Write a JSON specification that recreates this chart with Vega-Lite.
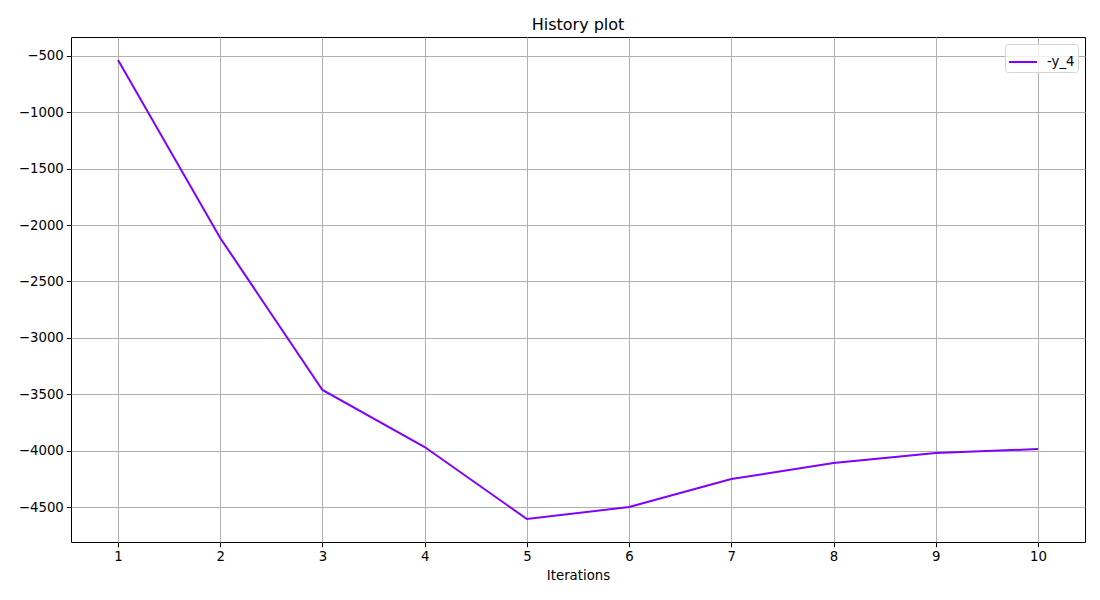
{
  "$schema": "https://vega.github.io/schema/vega-lite/v6.json",
  "width": 1014,
  "height": 505,
  "autosize": {"type": "none"},
  "padding": {"left": 71, "top": 37, "right": 15, "bottom": 58},
  "background": "white",
  "title": {
    "text": "History plot",
    "fontSize": 16,
    "fontWeight": "normal",
    "font": "DejaVu Sans",
    "color": "black",
    "anchor": "middle",
    "offset": 4
  },
  "data": {
    "values": [
      {"iteration": 1, "value": -535, "series": "-y_4"},
      {"iteration": 2, "value": -2114, "series": "-y_4"},
      {"iteration": 3, "value": -3462, "series": "-y_4"},
      {"iteration": 4, "value": -3968, "series": "-y_4"},
      {"iteration": 5, "value": -4606, "series": "-y_4"},
      {"iteration": 6, "value": -4500, "series": "-y_4"},
      {"iteration": 7, "value": -4252, "series": "-y_4"},
      {"iteration": 8, "value": -4110, "series": "-y_4"},
      {"iteration": 9, "value": -4021, "series": "-y_4"},
      {"iteration": 10, "value": -3986, "series": "-y_4"}
    ]
  },
  "mark": {"type": "line", "strokeWidth": 2, "clip": true},
  "encoding": {
    "x": {
      "field": "iteration",
      "type": "quantitative",
      "title": "Iterations",
      "scale": {"domain": [0.54, 10.46], "nice": false, "zero": false},
      "axis": {"values": [1, 2, 3, 4, 5, 6, 7, 8, 9, 10], "format": "d"}
    },
    "y": {
      "field": "value",
      "type": "quantitative",
      "title": null,
      "scale": {"domain": [-4810, -332], "nice": false, "zero": false},
      "axis": {
        "values": [-500, -1000, -1500, -2000, -2500, -3000, -3500, -4000, -4500],
        "labelExpr": "'\u2212' + format(abs(datum.value), 'd')"
      }
    },
    "color": {
      "field": "series",
      "type": "nominal",
      "title": null,
      "scale": {"range": ["#8000ff"]},
      "legend": {
        "orient": "top-right",
        "offset": 7,
        "symbolType": "M-1,0L1,0",
        "symbolSize": 784,
        "symbolStrokeWidth": 2,
        "labelFontSize": 13.3,
        "labelFont": "DejaVu Sans",
        "labelColor": "black",
        "labelOffset": 9,
        "padding": 3,
        "strokeColor": "#d5d5d5",
        "fillColor": "rgba(255,255,255,0.8)",
        "cornerRadius": 3
      }
    }
  },
  "config": {
    "view": {"stroke": "black", "strokeWidth": 1},
    "axis": {
      "domain": false,
      "grid": true,
      "gridColor": "#b0b0b0",
      "gridWidth": 1,
      "tickColor": "black",
      "tickSize": 4.7,
      "tickWidth": 1,
      "labelFont": "DejaVu Sans",
      "labelFontSize": 13.3,
      "labelColor": "black",
      "labelPadding": 3,
      "titleFont": "DejaVu Sans",
      "titleFontSize": 13.3,
      "titleFontWeight": "normal",
      "titleColor": "black",
      "titlePadding": 5
    }
  }
}
